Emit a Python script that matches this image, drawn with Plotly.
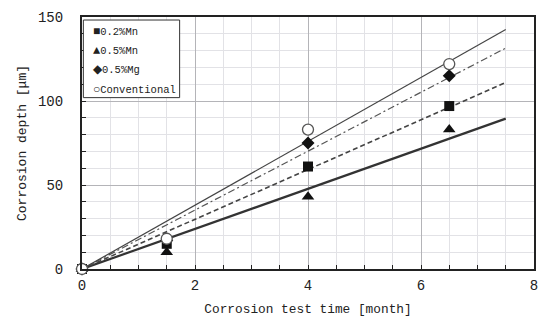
import plotly.graph_objects as go

# ---- data ----
time_months = [0, 1.5, 4, 6.5]
mn02 = [0, 15, 61, 97]
mn05 = [0, 10, 43, 83]
mg05 = [0, 17, 75, 115]
conventional = [0, 18, 83, 122]

fit_x = [0, 7.5]
fit_mn02 = [0, 111]
fit_mn05 = [0, 89.5]
fit_mg05 = [0, 131.5]
fit_conv = [0, 142.5]

legend_symbols = ["■", "▲", "◆", "○"]
legend_labels = ["0.2%Mn", "0.5%Mn", "0.5%Mg", "Conventional"]
x_tickvals = [0, 2, 4, 6, 8]
y_tickvals = [0, 50, 100, 150]

FONT = "Liberation Mono"
INK = "#222222"

fig = go.Figure()

# fit lines
fig.add_trace(go.Scatter(x=fit_x, y=fit_mn05, mode="lines", showlegend=False,
                         line=dict(color="#333333", width=2.2)))
fig.add_trace(go.Scatter(x=fit_x, y=fit_mn02, mode="lines", showlegend=False,
                         line=dict(color="#444444", width=1.6, dash="5px,3px")))
fig.add_trace(go.Scatter(x=fit_x, y=fit_mg05, mode="lines", showlegend=False,
                         line=dict(color="#555555", width=1.2, dash="7px,3px,2px,3px")))
fig.add_trace(go.Scatter(x=fit_x, y=fit_conv, mode="lines", showlegend=False,
                         line=dict(color="#444444", width=1.2)))

# data points
fig.add_trace(go.Scatter(x=time_months, y=mn02, mode="markers", name="0.2%Mn",
                         marker=dict(symbol="square", size=10, color="#111111"),
                         cliponaxis=False, showlegend=False))
fig.add_trace(go.Scatter(x=time_months, y=mn05, mode="markers", name="0.5%Mn",
                         marker=dict(symbol="triangle-up", size=11, color="#111111"),
                         cliponaxis=False, showlegend=False))
fig.add_trace(go.Scatter(x=time_months, y=mg05, mode="markers", name="0.5%Mg",
                         marker=dict(symbol="diamond", size=10, color="#111111"),
                         cliponaxis=False, showlegend=False))
fig.add_trace(go.Scatter(x=time_months, y=conventional, mode="markers", name="Conventional",
                         marker=dict(symbol="circle", size=11, color="white",
                                     line=dict(color="#555555", width=1.3)),
                         cliponaxis=False, showlegend=False))

# legend drawn as a text box (as in the reference)
fig.add_shape(type="rect", xref="paper", yref="paper",
              x0=0.003, x1=0.216, y0=0.68, y1=0.988,
              line=dict(color="#333333", width=1), fillcolor="white", layer="above")
for i, (sym, lab) in enumerate(zip(legend_symbols, legend_labels)):
    fig.add_annotation(xref="paper", yref="paper", x=0.02, y=0.94 - i * 0.076,
                       text=f"<span style='font-size:12px'>{sym}</span>{lab}",
                       showarrow=False, xanchor="left", yanchor="middle",
                       font=dict(family=FONT, size=10.5, color=INK))

fig.update_layout(
    width=540, height=323,
    margin=dict(l=82, r=6, t=17, b=54),
    paper_bgcolor="white", plot_bgcolor="white",
    font=dict(family=FONT, color=INK),
    showlegend=False,
)
fig.update_xaxes(
    range=[0, 8], tickvals=x_tickvals, ticks="inside", ticklen=4, tickcolor=INK,
    tickfont=dict(size=14, family=FONT), ticklabelstandoff=2, automargin=False,
    showgrid=True, gridcolor="#b4b4b8", gridwidth=1,
    minor=dict(dtick=0.5, showgrid=True, gridcolor="#e2e2e6", ticks="inside",
               ticklen=4, tickcolor=INK),
    showline=True, linecolor=INK, linewidth=2, mirror=True, zeroline=False,
    title=dict(text="Corrosion test time [month]", font=dict(size=12.8, family=FONT),
               standoff=11),
)
fig.update_yaxes(
    range=[0, 150], tickvals=y_tickvals, ticks="inside", ticklen=4, tickcolor=INK,
    tickfont=dict(size=14, family=FONT), ticklabelstandoff=14, automargin=False,
    showgrid=True, gridcolor="#b4b4b8", gridwidth=1,
    minor=dict(dtick=10, showgrid=True, gridcolor="#e2e2e6", ticks="inside",
               ticklen=4, tickcolor=INK),
    showline=True, linecolor=INK, linewidth=2, mirror=True, zeroline=False,
    title=dict(text="Corrosion depth [μm]", font=dict(size=13, family=FONT),
               standoff=8),
)

fig.write_html("out.html", config={"displayModeBar": False},
               post_script="document.body.style.margin='0';")
